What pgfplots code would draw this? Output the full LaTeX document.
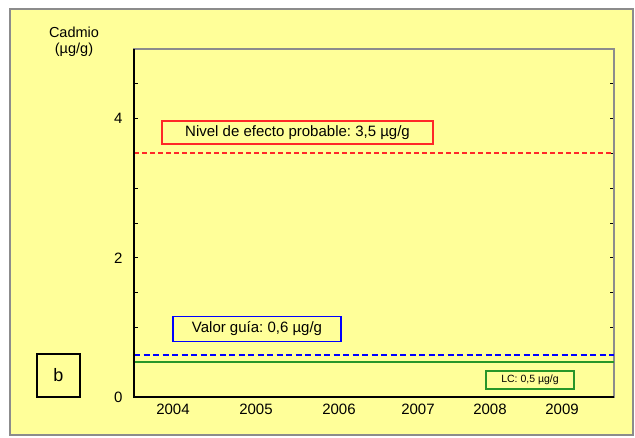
\documentclass[border=0pt]{standalone}
\usepackage{pgfplots}
\pgfplotsset{compat=1.18}
\usepackage{fontspec}
\setmainfont{Liberation Sans}
\frenchspacing
\definecolor{bgyellow}{RGB}{255,255,153}
\definecolor{framegray}{RGB}{140,140,140}
\definecolor{lred}{RGB}{255,40,40}
\definecolor{lblue}{RGB}{0,0,255}
\definecolor{lgreen}{RGB}{40,150,40}
\begin{document}
\begin{tikzpicture}[x=1pt,y=1pt]
\useasboundingbox (0,0) rectangle (635,437);
\fill[white] (0,0) rectangle (635,437);
\draw[framegray,line width=2pt,fill=bgyellow] (10,2) rectangle (633,428);
\node[align=center,font=\fontsize{14.5}{16.5}\selectfont] at (74,395) {Cadmio\\(µg/g)};
\draw[black,line width=1.2pt] (37,40) rectangle (80,83);
\node[font=\fontsize{18}{20}\selectfont] at (58.5,61.5) {b};
\begin{axis}[
  at={(134pt,40pt)}, anchor=south west,
  scale only axis, width=480pt, height=348pt,
  xmin=0, xmax=480, ymin=0, ymax=5,
  xtick={39,122,205,284,356,428},
  xticklabels={2004,2005,2006,2007,2008,2009},
  ytick={0,2,4},
  minor ytick={0.5,1,1.5,2.5,3,3.5,4.5},
  tick align=inside,
  major tick length=4pt, minor tick length=4pt,
  x tick style={draw=none},
  y tick style={black, line width=0.8pt},
  minor y tick style={black, line width=0.8pt},
  axis line style={framegray, line width=1.8pt},
  tick label style={font=\fontsize{15}{17}\selectfont},
  /pgf/number format/assume math mode=true,
  xticklabel style={yshift=-3pt},
  yticklabel style={xshift=-8pt},
  clip=false,
]
\addplot[lred, line width=2pt, dash pattern=on 5pt off 3pt] coordinates {(0,3.5) (480,3.5)};
\addplot[lblue, line width=2pt, dash pattern=on 6pt off 3.5pt] coordinates {(0,0.6) (480,0.6)};
\addplot[lgreen, line width=2pt] coordinates {(0,0.5) (480,0.5)};
\draw[black, line width=1.5pt] (rel axis cs:0,1) -- (rel axis cs:0,0) -- (rel axis cs:1,0);
\node[draw=lred, line width=1.3pt, fill=bgyellow, minimum width=271pt, minimum height=23pt, inner sep=0pt, font=\fontsize{15}{17}\selectfont] at (axis cs:163.5,3.80) {Nivel de efecto probable: 3,5 µg/g};
\node[draw=lblue, line width=1.3pt, fill=bgyellow, minimum width=168pt, minimum height=25pt, inner sep=0pt, font=\fontsize{15}{17}\selectfont] at (axis cs:123,0.98) {Valor guía: 0,6 µg/g};
\node[draw=lgreen, line width=1.3pt, fill=bgyellow, minimum width=88pt, minimum height=18pt, inner sep=0pt, font=\fontsize{10.5}{12}\selectfont] at (axis cs:396,0.245) {LC: 0,5 µg/g};
\end{axis}
\end{tikzpicture}
\end{document}
